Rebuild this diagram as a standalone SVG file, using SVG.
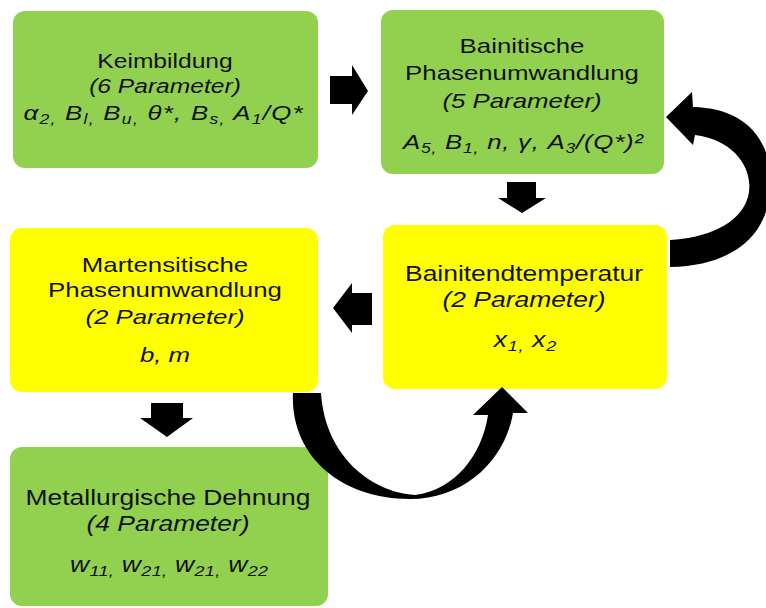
<svg xmlns="http://www.w3.org/2000/svg" width="766" height="608" viewBox="0 0 766 608">
<style>
.g{fill:#92D050}
.y{fill:#FFFF00}
text{font-family:"Liberation Sans",Arial,sans-serif;fill:#111;text-anchor:middle}
.it{font-style:italic}
.sub{font-size:68%}
.arr{fill:#000}
</style>
<rect width="766" height="608" fill="#fff"/>
<g id="keimbildung">
<rect class="g" x="13" y="11" width="305" height="157" rx="12"/>
<text font-size="20" transform="translate(165,68) scale(1.23,1)">Keimbildung</text>
<text class="it" font-size="20" transform="translate(165,93) scale(1.23,1)">(6 Parameter)</text>
<text class="it" font-size="21" transform="translate(163,120) scale(1.23,1)" textLength="227" lengthAdjust="spacing">α<tspan class="sub" dy="4">2,</tspan><tspan dy="-4"> B</tspan><tspan class="sub" dy="4">l,</tspan><tspan dy="-4"> B</tspan><tspan class="sub" dy="4">u,</tspan><tspan dy="-4"> θ*, B</tspan><tspan class="sub" dy="4">s,</tspan><tspan dy="-4"> A</tspan><tspan class="sub" dy="4">1</tspan><tspan dy="-4">/Q*</tspan></text>
</g>
<g id="bainitische">
<rect class="g" x="381" y="10" width="283" height="164" rx="12"/>
<text font-size="21" transform="translate(522,53) scale(1.23,1)">Bainitische</text>
<text font-size="21" transform="translate(522,80) scale(1.23,1)">Phasenumwandlung</text>
<text class="it" font-size="21" transform="translate(522,108) scale(1.23,1)">(5 Parameter)</text>
<text class="it" font-size="21" transform="translate(523,149) scale(1.23,1)" textLength="195" lengthAdjust="spacing">A<tspan class="sub" dy="4">5,</tspan><tspan dy="-4"> B</tspan><tspan class="sub" dy="4">1,</tspan><tspan dy="-4"> n, γ, A</tspan><tspan class="sub" dy="4">3</tspan><tspan dy="-4">/(Q*)²</tspan></text>
</g>
<g id="bainitendtemperatur">
<rect class="y" x="383" y="225" width="284" height="164" rx="12"/>
<text font-size="21.5" transform="translate(524,281) scale(1.23,1)">Bainitendtemperatur</text>
<text class="it" font-size="21.5" transform="translate(524,307) scale(1.23,1)">(2 Parameter)</text>
<text class="it" font-size="21.5" transform="translate(525,347) scale(1.23,1)" textLength="51" lengthAdjust="spacing">x<tspan class="sub" dy="4">1,</tspan><tspan dy="-4"> x</tspan><tspan class="sub" dy="4">2</tspan></text>
</g>
<g id="martensitische">
<rect class="y" x="10" y="228" width="308" height="164" rx="12"/>
<text font-size="21" transform="translate(165,272) scale(1.23,1)">Martensitische</text>
<text font-size="21" transform="translate(165,297) scale(1.23,1)">Phasenumwandlung</text>
<text class="it" font-size="21" transform="translate(165,324) scale(1.23,1)">(2 Parameter)</text>
<text class="it" font-size="21" transform="translate(165,362) scale(1.23,1)">b, m</text>
</g>
<g id="metallurgische">
<rect class="g" x="10" y="447" width="318" height="159" rx="12"/>
<text font-size="21.5" transform="translate(168,505) scale(1.23,1)">Metallurgische Dehnung</text>
<text class="it" font-size="21.5" transform="translate(168,531) scale(1.23,1)">(4 Parameter)</text>
<text class="it" font-size="21.5" transform="translate(169,572) scale(1.23,1)" textLength="161" lengthAdjust="spacing">w<tspan class="sub" dy="4">11,</tspan><tspan dy="-4"> w</tspan><tspan class="sub" dy="4">21,</tspan><tspan dy="-4"> w</tspan><tspan class="sub" dy="4">21,</tspan><tspan dy="-4"> w</tspan><tspan class="sub" dy="4">22</tspan></text>
</g>
<g id="connectors">
<polygon class="arr" points="330,76 352,76 352,65 368,91 352,115 352,104 330,104"/>
<polygon class="arr" points="507,182 536,182 536,198 546,198 522,213 498,198 507,198"/>
<polygon class="arr" points="372,293 352,293 352,283 333,308 352,333 352,325 372,325"/>
<polygon class="arr" points="151,403 183,403 183,418 193,418 167,437 140,418 151,418"/>
<path class="arr" d="M670,240 C705,238 740,225 748,197 C755,170 735,140 695,135 L693,145 L666,117 L692,92 L693,107 C745,108 775,140 770,192 C766,238 730,266 670,267 Z"/>
<path class="arr" d="M293,393 C290,455 340,499 410,499 C465,499 505,460 513,413 L528,413 L502,387 L473,415 L488,415 C482,455 455,490 415,495 C370,492 325,455 321,393 Z"/>
</g>
</svg>
